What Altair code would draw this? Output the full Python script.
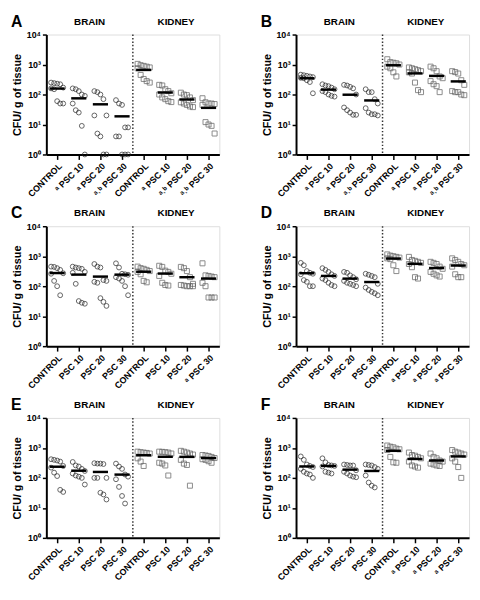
import altair as alt
import pandas as pd

# ---------------- data (CFU / g of tissue) ----------------
A_labels = ["CONTROL", "ᵃ PSC 10", "ᵃ PSC 20", "ᵃ˒ᵇ PSC 30", "CONTROL", "ᵃ PSC 10", "ᵃ˒ᵇ PSC 20", "ᵃ˒ᵇ PSC 30"]
A_values = [
    [250, 240, 230, 220, 170, 160, 150, 60, 50, 50],
    [160, 150, 130, 100, 90, 50, 30, 25, 9, 1],
    [130, 120, 100, 70, 20, 20, 5, 4, 1, 1],
    [65, 50, 45, 8, 8, 4, 4, 1, 1, 1],
    [1050, 950, 900, 850, 800, 750, 450, 330, 280, 250],
    [210, 200, 150, 130, 110, 100, 80, 70, 60, 56],
    [115, 100, 95, 80, 65, 55, 50, 45, 40, 38],
    [75, 55, 50, 50, 48, 45, 12, 10, 9, 5],
]

B_labels = ["CONTROL", "ᵃ PSC 10", "ᵃ PSC 20", "ᵃ˒ᵇ PSC 30", "CONTROL", "ᵃ PSC 10", "ᵃ PSC 20", "ᵃ˒ᵇ PSC 30"]
B_values = [
    [460, 440, 420, 400, 380, 360, 350, 300, 260, 110],
    [220, 200, 190, 170, 150, 130, 120, 100, 90, 85],
    [210, 200, 180, 160, 100, 37, 30, 25, 21, 21],
    [150, 120, 120, 70, 50, 35, 25, 22, 22, 20],
    [1500, 1200, 1150, 1100, 1000, 850, 750, 550, 400],
    [800, 750, 700, 650, 600, 550, 500, 250, 140, 120],
    [850, 750, 600, 400, 350, 280, 220, 190, 120],
    [600, 560, 500, 300, 210, 130, 120, 120, 100, 95],
]

C_labels = ["CONTROL", "PSC 10", "PSC 20", "PSC 30", "CONTROL", "PSC 10", "PSC 20", "ᵃ PSC 30"]
C_values = [
    [450, 440, 400, 350, 270, 260, 150, 100, 50],
    [450, 420, 400, 380, 300, 280, 120, 32, 28, 26],
    [550, 450, 420, 160, 150, 140, 130, 40, 30, 22],
    [580, 420, 260, 250, 240, 200, 180, 150, 100, 50],
    [450, 400, 380, 350, 320, 300, 250, 150, 135],
    [480, 440, 330, 300, 260, 220, 130, 110, 105],
    [440, 400, 320, 200, 120, 110, 105, 100, 100, 100],
    [580, 230, 220, 210, 200, 130, 100, 42, 42, 42],
]

D_labels = ["CONTROL", "PSC 10", "PSC 20", "PSC 30", "CONTROL", "ᵃ PSC 10", "ᵃ PSC 20", "ᵃ PSC 30"]
D_values = [
    [600, 500, 320, 280, 260, 250, 160, 140, 100, 100],
    [400, 350, 300, 250, 220, 180, 160, 130, 110, 100],
    [300, 280, 230, 200, 170, 150, 130, 120, 110, 100],
    [260, 240, 220, 200, 120, 90, 75, 65, 58, 50],
    [1150, 1050, 1000, 950, 900, 850, 800, 500, 320],
    [950, 750, 700, 650, 600, 550, 430, 200, 180],
    [650, 600, 550, 450, 380, 300, 260, 230, 210],
    [850, 750, 650, 550, 500, 450, 250, 200, 200],
]

E_labels = ["CONTROL", "PSC 10", "PSC 20", "PSC 30", "CONTROL", "PSC 10", "PSC 20", "PSC 30"]
E_values = [
    [420, 400, 380, 350, 250, 220, 150, 115, 40, 34],
    [340, 260, 240, 200, 170, 140, 120, 110, 100, 60],
    [310, 300, 300, 290, 100, 100, 100, 32, 28, 19],
    [300, 240, 200, 130, 110, 90, 50, 25, 14],
    [750, 720, 700, 680, 650, 450, 350, 250],
    [750, 740, 720, 700, 650, 320, 300, 260, 120],
    [800, 750, 700, 650, 600, 400, 300, 270, 55],
    [580, 560, 540, 500, 460, 420, 400, 360, 320],
]

F_labels = ["CONTROL", "PSC 10", "PSC 20", "PSC 30", "CONTROL", "ᵃ PSC 10", "ᵃ PSC 20", "ᵃ PSC 30"]
F_values = [
    [520, 400, 280, 250, 230, 200, 160, 140, 130, 100],
    [450, 330, 270, 260, 250, 240, 160, 150, 140],
    [280, 270, 260, 260, 180, 160, 140, 120, 110, 105],
    [280, 270, 260, 230, 200, 120, 70, 55, 48],
    [1200, 1100, 1050, 950, 900, 850, 500, 330, 320],
    [700, 580, 550, 500, 450, 350, 260, 240, 220],
    [650, 500, 450, 380, 350, 300, 280, 260, 250],
    [850, 750, 700, 650, 600, 450, 350, 230, 100],
]

headers = ["BRAIN", "KIDNEY"]

# ---------------- layout / style ----------------
W, H = 176, 122
FONT = "Liberation Sans"
SPREAD = [-0.28, -0.14, 0.0, 0.14, 0.28]


def panel(letter, labels, values):
    rows = []
    for g, vals in enumerate(values):
        for i, v in enumerate(sorted(vals, reverse=True)):
            rows.append({"g": g, "x": g + SPREAD[i % 5], "v": v})
    df = pd.DataFrame(rows)

    xscale = alt.Scale(domain=[-0.5, 7.5], nice=False, zero=False)
    yscale = alt.Scale(type="log", domain=[1, 10000], nice=False)
    label_expr = "[" + ",".join("'" + l + "'" for l in labels) + "][datum.value]"
    xaxis = alt.Axis(values=list(range(8)), labelExpr=label_expr, labelAngle=-45,
                     title=None, grid=False, labelFontSize=9, labelFontWeight="bold",
                     labelColor="black", domainWidth=2, domainColor="black",
                     tickWidth=1.5, tickColor="black", tickSize=5, labelPadding=2,
                     labelOverlap=False, labelFlush=False, labelBound=False)
    yaxis = alt.Axis(values=[1, 10, 100, 1000, 10000],
                     labelExpr="'10' + ['⁰','¹','²','³','⁴'][round(log(datum.value)/LN10)]",
                     title="CFU/ g of tissue", grid=False, titleFontSize=11,
                     titleFontWeight="bold", titleColor="black", labelFontSize=9,
                     labelFontWeight="bold", labelColor="black", domainWidth=2,
                     domainColor="black", tickWidth=1.5, tickColor="black",
                     tickSize=4, titlePadding=4, labelPadding=2,
                     labelOverlap=False, labelFlush=False)

    base = alt.Chart(df)
    circles = base.transform_filter("datum.g < 4").mark_point(
        shape="circle", filled=False, size=24, color="#222", strokeWidth=1
    ).encode(x=alt.X("x:Q", scale=xscale, axis=xaxis),
             y=alt.Y("v:Q", scale=yscale, axis=yaxis))
    squares = base.transform_filter("datum.g >= 4").mark_point(
        shape="square", filled=False, size=26, color="#5a5a5a", strokeWidth=1
    ).encode(x=alt.X("x:Q", axis=xaxis), y=alt.Y("v:Q", axis=yaxis))
    means = base.transform_aggregate(m="mean(v)", groupby=["g"]).transform_calculate(
        x1="datum.g - 0.35", x2="datum.g + 0.35"
    ).mark_rule(strokeWidth=2.5, color="black").encode(
        x=alt.X("x1:Q", axis=xaxis), x2="x2:Q", y=alt.Y("m:Q", axis=yaxis))
    sep = alt.Chart(pd.DataFrame({"s": [3.5]})).mark_rule(
        strokeDash=[1.5, 2], color="#333", strokeWidth=1.5
    ).encode(x=alt.X("s:Q", axis=xaxis), y=alt.value(0), y2=alt.value(H))
    heads = alt.Chart(pd.DataFrame({"p": [1.5, 5.5], "t": headers})).mark_text(
        fontWeight="bold", fontSize=10, baseline="alphabetic", font=FONT, color="black"
    ).encode(x=alt.X("p:Q", axis=xaxis), y=alt.value(-10), text="t:N")
    let = alt.Chart(pd.DataFrame({"t": [letter]})).mark_text(
        fontSize=16, fontWeight="bold", align="left", baseline="alphabetic", font=FONT, color="black"
    ).encode(x=alt.value(-36), y=alt.value(-8), text="t:N")
    return alt.layer(circles, squares, means, sep, heads, let).properties(width=W, height=H)


chart = alt.vconcat(
    alt.hconcat(panel("A", A_labels, A_values), panel("B", B_labels, B_values), spacing=40),
    alt.hconcat(panel("C", C_labels, C_values), panel("D", D_labels, D_values), spacing=40),
    alt.hconcat(panel("E", E_labels, E_values), panel("F", F_labels, F_values), spacing=40),
    spacing=5,
).properties(padding={"left": 2, "top": 0, "right": 2, "bottom": 0}).configure_view(
    stroke=None
).configure_axisX(labelOverlap=False).configure(font=FONT)

chart.save("out.html", embed_options={"renderer": "svg", "actions": False})
